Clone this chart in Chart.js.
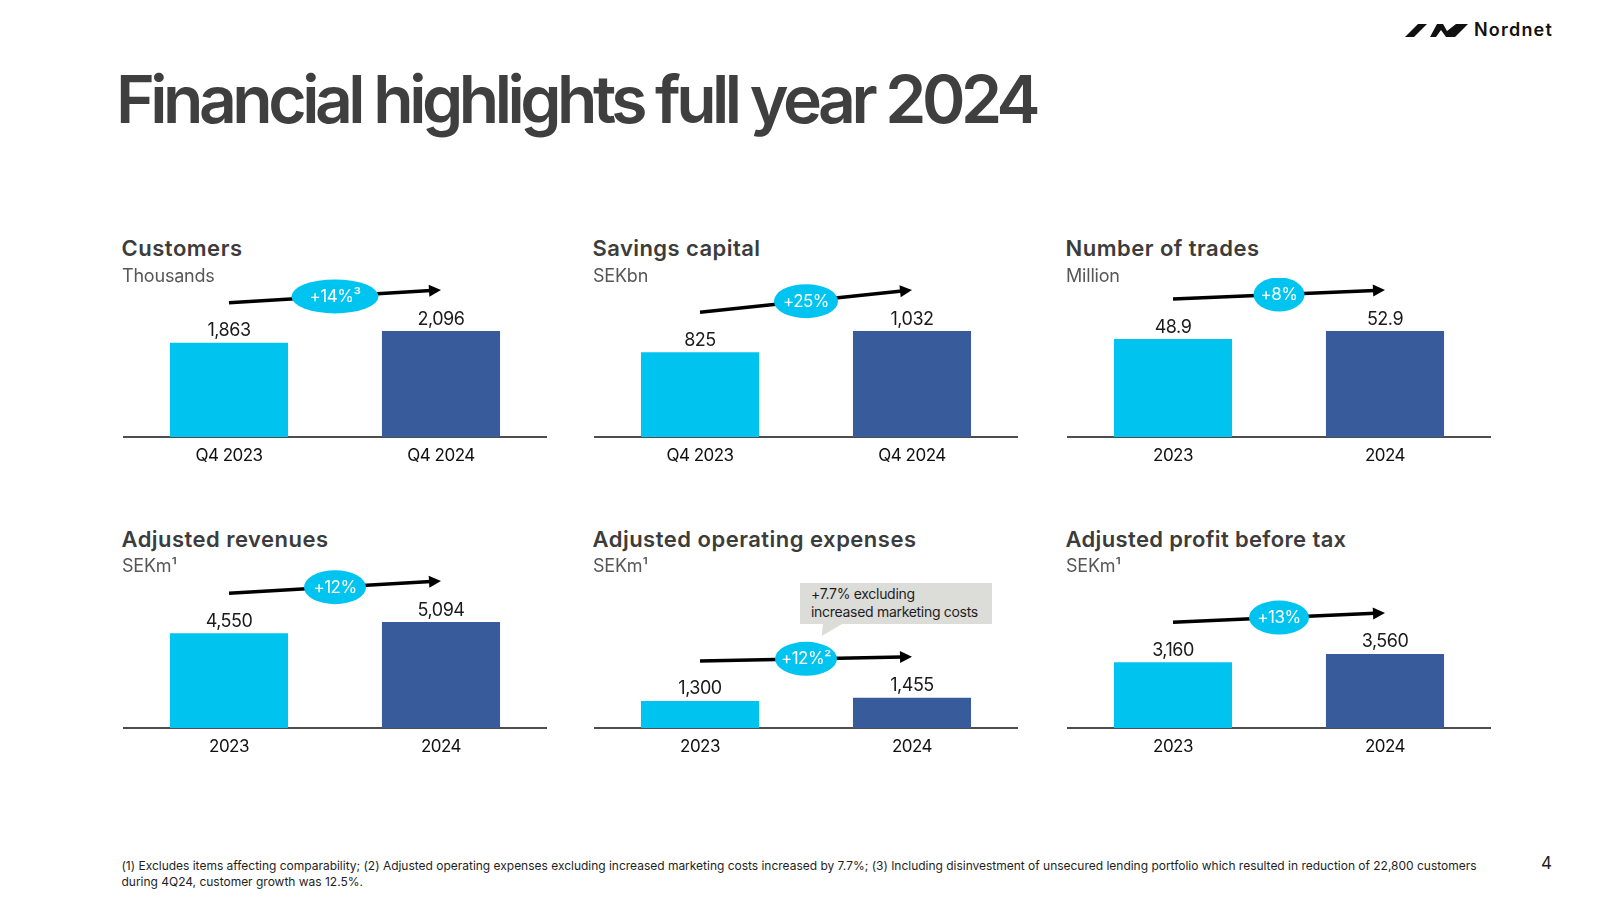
<!DOCTYPE html>
<html><head><meta charset="utf-8">
<script src="https://cdn.jsdelivr.net/npm/chart.js@4.4.1/dist/chart.umd.min.js"></script>
<style>
html,body{margin:0;padding:0;background:#fff;}
body{width:1600px;height:900px;position:relative;overflow:hidden;font-family:Inter,'Noto Sans',sans-serif;}
.t{position:absolute;white-space:nowrap;margin:0;}
#title{font-size:66px;font-weight:600;color:#3f3f3f;line-height:79.2px;left:116px;top:59.7px;}
.ptitle{font-size:22px;font-weight:600;color:#3c3c3c;line-height:26.4px;}
.punit{font-size:18px;font-weight:400;color:#575757;line-height:21.6px;letter-spacing:-0.2px;}
canvas{position:absolute;}
#callout{position:absolute;left:800px;top:583.3px;width:192px;height:41px;background:#dcdcd9;box-sizing:border-box;padding:1.9px 0 0 11px;font-size:14px;line-height:18px;color:#1e1e1e;white-space:nowrap;letter-spacing:-0.3px;}
#foot{position:absolute;left:121.5px;top:858.3px;font-size:12px;line-height:16px;color:#1e1e1e;white-space:nowrap;}
#pnum{font-size:17px;line-height:20.4px;color:#1e1e1e;left:1541px;top:852.9px;}
#logoText{font-size:18px;font-weight:600;color:#111;line-height:21.6px;left:1474px;top:19.4px;}
</style>
</head>
<body>
<svg style="position:absolute;left:0;top:0" width="1600" height="900" id="deco">
  <polygon points="1405,37 1414,37 1427,24 1418,24" fill="#111"/>
  <polygon points="1430,37 1437,24 1443,24 1447,31 1456,24 1468,24 1455,37 1446,37 1441,30 1436,37" fill="#111"/>
  <polygon points="823,623.5 843,623.5 821.7,636" fill="#dcdcd9"/>
</svg>
<div class="t" id="logoText">Nordnet</div>
<div class="t" id="title">Financial highlights full year 2024</div>
<div id="callout">+7.7% excluding<br>increased marketing costs</div>
<div id="foot"><span id="foot1">(1) Excludes items affecting comparability; (2) Adjusted operating expenses excluding increased marketing costs increased by 7.7%; (3) Including disinvestment of unsecured lending portfolio which resulted in reduction of 22,800 customers</span><br><span id="foot2">during 4Q24, customer growth was 12.5%.</span></div>
<div class="t" id="pnum">4</div>
<script>
// ---- data ----
const categoriesQuarter = ['Q4 2023', 'Q4 2024'];
const categoriesYear = ['2023', '2024'];
const customers = [1863, 2096];
const savingsCapital = [825, 1032];
const numberOfTrades = [48.9, 52.9];
const adjRevenues = [4550, 5094];
const adjOpex = [1300, 1455];
const adjProfit = [3160, 3560];
const growthLabels = ['+14%\u00B3', '+25%', '+8%', '+12%', '+12%\u00B2', '+13%'];
const panelTitles = ['Customers', 'Savings capital', 'Number of trades', 'Adjusted revenues', 'Adjusted operating expenses', 'Adjusted profit before tax'];
const panelUnits = ['Thousands', 'SEKbn', 'Million', 'SEKm\u00B9', 'SEKm\u00B9', 'SEKm\u00B9'];

// ---- style / layout ----
const CYAN = '#00c4f0', BLUE = '#385c9b';
const panelX = [123, 594, 1067];
const axisY = [437, 728];
const titleTop = [234.8, 526.1];
const unitTop = [265.4, 555.4];
const titleW = [121, 168, 194, 207, 324, 281];
const bubbleW = [87, 64, 51, 62, 62, 60];
const AREA_H = 159, AXIS_H = 36, CHART_W = 424, HEADROOM = 1.5;

const bottomRef = Math.max(...adjRevenues, ...adjOpex, ...adjProfit);
const panels = [
  {labels: categoriesQuarter, values: customers, ref: Math.max(...customers)},
  {labels: categoriesQuarter, values: savingsCapital, ref: Math.max(...savingsCapital)},
  {labels: categoriesYear, values: numberOfTrades, ref: Math.max(...numberOfTrades)},
  {labels: categoriesYear, values: adjRevenues, ref: bottomRef},
  {labels: categoriesYear, values: adjOpex, ref: bottomRef},
  {labels: categoriesYear, values: adjProfit, ref: bottomRef}
];

function fit(el, w) {
  el.style.letterSpacing = '0px';
  const r = el.getBoundingClientRect().width;
  const n = el.textContent.length;
  el.style.letterSpacing = ((w - r) / n) + 'px';
}

const tightText = {
  id: 'tightText',
  beforeDraw(chart) { chart.ctx.letterSpacing = '-0.5px'; }
};

function annotPlugin(idx) {
  return {
    id: 'annot' + idx,
    afterDatasetsDraw(chart) {
      const ctx = chart.ctx;
      const meta = chart.getDatasetMeta(0);
      const vals = chart.data.datasets[0].data;
      const b1 = meta.data[0], b2 = meta.data[1];
      ctx.save();
      ctx.letterSpacing = '-0.5px';
      // value labels
      ctx.fillStyle = '#1a1a1a';
      ctx.font = '400 18px Inter';
      ctx.textAlign = 'center';
      ctx.textBaseline = 'alphabetic';
      meta.data.forEach((b, i) => {
        ctx.fillText(vals[i].toLocaleString('en-US'), b.x, b.y - 6.5);
      });
      // arrow
      const x1 = b1.x, y1 = b1.y - 40, x2 = b2.x, y2 = b2.y - 41;
      const len = Math.hypot(x2 - x1, y2 - y1);
      const dx = (x2 - x1) / len, dy = (y2 - y1) / len;
      ctx.strokeStyle = '#000';
      ctx.lineWidth = 3.5;
      ctx.beginPath();
      ctx.moveTo(x1, y1);
      ctx.lineTo(x2 - dx * 10, y2 - dy * 10);
      ctx.stroke();
      ctx.fillStyle = '#000';
      ctx.beginPath();
      ctx.moveTo(x2, y2);
      ctx.lineTo(x2 - dx * 12 - dy * 6, y2 - dy * 12 + dx * 6);
      ctx.lineTo(x2 - dx * 12 + dy * 6, y2 - dy * 12 - dx * 6);
      ctx.closePath();
      ctx.fill();
      // bubble
      const mx = (x1 + x2) / 2, my = (y1 + y2) / 2;
      ctx.fillStyle = CYAN;
      ctx.beginPath();
      ctx.ellipse(mx, my, bubbleW[idx] / 2, 17, 0, 0, Math.PI * 2);
      ctx.fill();
      ctx.fillStyle = '#fff';
      ctx.font = '400 17px Inter';
      ctx.textBaseline = 'middle';
      ctx.fillText(growthLabels[idx], mx, my + 0.5);
      ctx.restore();
    }
  };
}

function init() {
  fit(document.getElementById('title'), 920);
  fit(document.getElementById('logoText'), 79);
  const f1 = document.getElementById('foot1');
  fit(f1, 1355);
  document.getElementById('foot2').style.letterSpacing = f1.style.letterSpacing;

  panels.forEach((p, i) => {
    const row = Math.floor(i / 3), col = i % 3;
    const tt = document.createElement('div');
    tt.className = 't ptitle';
    tt.textContent = panelTitles[i];
    tt.style.left = (panelX[col] - 1.5) + 'px';
    tt.style.top = titleTop[row] + 'px';
    document.body.appendChild(tt);
    fit(tt, titleW[i]);
    const ut = document.createElement('div');
    ut.className = 't punit';
    ut.textContent = panelUnits[i];
    ut.style.left = (panelX[col] - 1) + 'px';
    ut.style.top = unitTop[row] + 'px';
    document.body.appendChild(ut);

    const cv = document.createElement('canvas');
    cv.width = CHART_W;
    cv.height = AREA_H + AXIS_H;
    cv.style.left = panelX[col] + 'px';
    cv.style.top = (axisY[row] - AREA_H) + 'px';
    cv.style.width = CHART_W + 'px';
    cv.style.height = (AREA_H + AXIS_H) + 'px';
    document.body.insertBefore(cv, document.getElementById('callout'));
    new Chart(cv, {
      type: 'bar',
      data: {
        labels: p.labels,
        datasets: [{
          data: p.values,
          backgroundColor: [CYAN, BLUE],
          borderWidth: 0,
          barPercentage: 0.557,
          categoryPercentage: 1
        }]
      },
      options: {
        responsive: false,
        animation: false,
        devicePixelRatio: 1,
        layout: {padding: 0},
        plugins: {legend: {display: false}, tooltip: {enabled: false}},
        scales: {
          x: {
            grid: {display: false, drawTicks: false},
            border: {display: true, color: '#4d4d4d', width: 2},
            ticks: {color: '#111', font: {size: 17, family: 'Inter'}, padding: 8.5},
            afterFit: s => { s.height = AXIS_H; }
          },
          y: {display: false, min: 0, max: p.ref * HEADROOM}
        }
      },
      plugins: [tightText, annotPlugin(i)]
    });
  });
}
Chart.defaults.font.family = 'Inter';
if (document.fonts && document.fonts.load) {
  Promise.all([document.fonts.load('400 16px Inter'), document.fonts.load('600 22px Inter')]).then(init, init);
} else { init(); }
</script>
</body></html>
